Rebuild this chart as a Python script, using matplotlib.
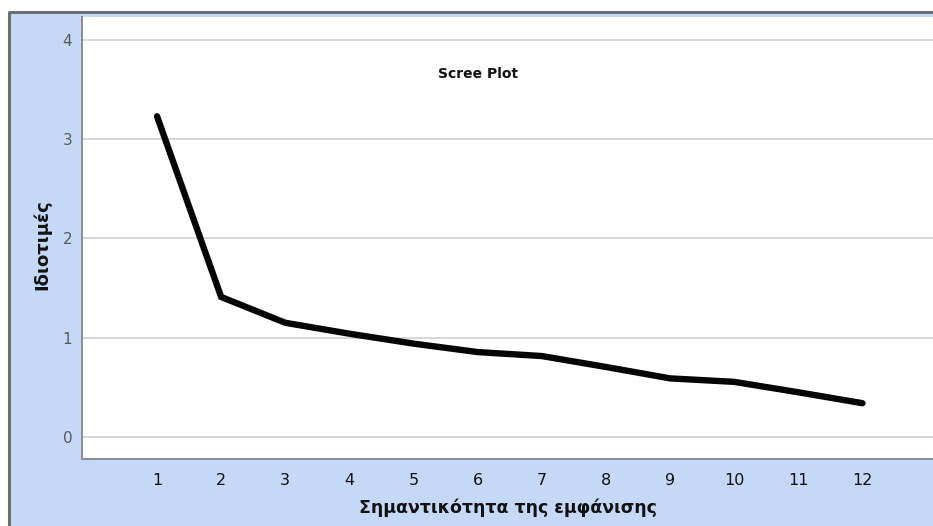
import matplotlib
matplotlib.use("Agg")
import matplotlib.pyplot as plt
from matplotlib.patches import Rectangle

plt.rcParams['font.family'] = ['DejaVu Sans']

# Scree plot data: eigenvalue for each component
components = [1, 2, 3, 4, 5, 6, 7, 8, 9, 10, 11, 12]
eigenvalues = [3.23, 1.41, 1.15, 1.04, 0.94, 0.855, 0.815, 0.705, 0.59, 0.555, 0.45, 0.34]
y_ticks = [0, 1, 2, 3, 4]

W, H = 933, 526
fig = plt.figure(figsize=(W / 100, H / 100), dpi=100)
fig.patch.set_facecolor('white')

# Background layer: light blue chart frame with a dark border along the top and left
bg = fig.add_axes([0, 0, 1, 1], zorder=0)
bg.set_xlim(0, W)
bg.set_ylim(H, 0)
bg.axis('off')
frame_blue = '#c5d8f8'
bg.add_patch(Rectangle((8, 12), W, H, facecolor=frame_blue, edgecolor='none'))
bg.plot([9, 9], [12, H], color='#6e6e6e', linewidth=2.2, solid_capstyle='butt')
bg.plot([8, W], [12, 12], color='#6e6e6e', linewidth=2.2, solid_capstyle='butt')

left, right, top, bottom = 82, 933, 17, 459
ax = fig.add_axes([left / W, (H - bottom) / H, (right - left) / W, (bottom - top) / H], zorder=2)
ax.set_facecolor('white')

ax.plot(components, eigenvalues, color='#050505', linewidth=4.6,
        solid_capstyle='round', solid_joinstyle='miter', zorder=3)

ax.set_xlim(-0.17, 13.1)
ax.set_ylim(-0.222, 4.23)
ax.set_xticks(components)
ax.set_yticks(y_ticks)
ax.set_xticklabels([str(c) for c in components], fontsize=11.5, color='#111111')
ax.set_yticklabels([str(v) for v in y_ticks], fontsize=11, color='#5a5a5a')
ax.tick_params(axis='both', length=0)
ax.tick_params(axis='x', pad=10)
ax.tick_params(axis='y', pad=7)

for v in y_ticks:
    ax.axhline(v, color='#d4d4d4', linewidth=1.3, zorder=1)

for side in ['top', 'right']:
    ax.spines[side].set_visible(False)
for side in ['left', 'bottom']:
    ax.spines[side].set_color('#8a8a96')
    ax.spines[side].set_linewidth(1.4)

fig.text(478 / W, (H - 74) / H, 'Scree Plot', ha='center', va='center',
         fontsize=10, fontweight='bold', color='#111111', zorder=5)

fig.text(42 / W, (H - 245) / H, 'Ιδιοτιμές', rotation=90, ha='center', va='center',
         fontsize=13, fontweight='bold', color='#111111')
fig.text(508 / W, (H - 508) / H, 'Σημαντικότητα της εμφάνισης', ha='center', va='center',
         fontsize=12.5, fontweight='bold', color='#111111')

fig.savefig('out.png', dpi=100, facecolor=fig.get_facecolor())
